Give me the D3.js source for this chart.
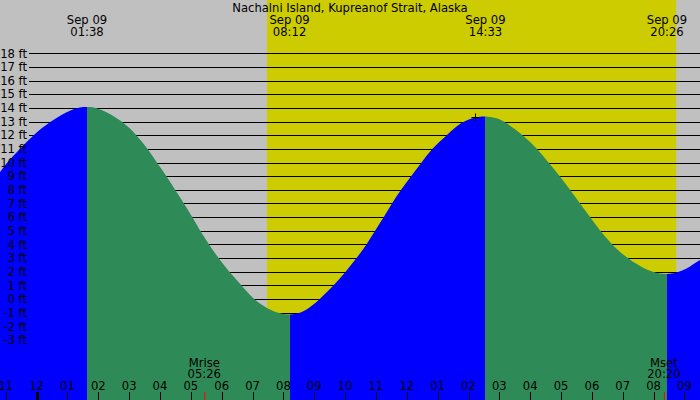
<!DOCTYPE html>
<html>
<head>
<meta charset="utf-8">
<script src="https://cdn.jsdelivr.net/npm/d3@7"></script>
<style>
  body { margin: 0; background: #ffffff; }
  text { font-family: "DejaVu Sans", sans-serif; font-size: 11.6px; fill: #000000; }
</style>
</head>
<body>
<script>
var CHART_WIDTH = 700;
var CHART_HEIGHT = 400;

var night_color = "#c0c0c0";
var day_color = "#cccc00";
var rising_color = "#0000ff";
var falling_color = "#2e8b57";

var chart_title = "Nachalni Island, Kupreanof Strait, Alaska";

// tide height readings (hours after midnight Sep 09, feet)
var tideHours = [-1.186, -0.959, -0.538, -0.117, 0.434, 1.180, 1.633,
                 2.055, 2.810, 3.245, 3.601, 3.893, 4.217, 4.486, 4.779, 5.047, 5.297, 5.589, 5.890, 6.237, 6.648, 7.000, 7.672, 8.200,
                 8.670, 9.190, 9.640, 10.020, 10.376, 10.700, 10.969, 11.261, 11.511, 11.812, 12.136, 12.483, 12.807, 13.293, 13.779, 14.210, 14.550,
                 14.880, 15.183, 15.776, 16.230, 16.587, 16.966, 17.290, 17.614, 17.939, 18.263, 18.642, 19.128, 19.828, 20.433,
                 20.857, 21.180, 21.504];
var tideFeet = [9.3, 10, 11, 12, 13, 14, 14.1,
                14, 13, 12, 11, 10, 9, 8, 7, 6, 5, 4, 3, 2, 1, 0, -1, -1.2,
                -1, 0, 1, 2, 3, 4, 5, 6, 7, 8, 9, 10, 11, 12, 13, 13.32, 13.4,
                13.3, 13, 12, 11, 10, 9, 8, 7, 6, 5, 4, 3, 2, 1.76,
                2.0, 2.37, 2.86];

// high / low tide times
var extremeDates = ["Sep 09", "Sep 09", "Sep 09", "Sep 09"];
var extremeTimes = ["01:38", "08:12", "14:33", "20:26"];

// sunrise / sunset
var sunTimes = ["07:28", "20:44"];

// moon rise / set
var moonLabels = ["Mrise", "Mset"];
var moonTimes = ["05:26", "20:20"];

// small cross marker
var markHours = [14.21];
var markFeet = [13.3];

// y axis levels
var feetTicks = d3.range(-3, 19);

// hour ticks
var hourTicks = d3.range(-1, 22);


function hoursOf(s) {
  var p = s.split(":");
  return +p[0] + (+p[1]) / 60;
}

function hourLabel(h) {
  var v = ((h % 12) + 12) % 12;
  if (v == 0) v = 12;
  return (v < 10 ? "0" : "") + v;
}


var x = d3.scaleLinear().domain([0, 12]).range([36.6, 406.8]);
var y = d3.scaleLinear().domain([0, 18]).range([299, 53.3]);

var svg = d3.select("body").append("svg")
              .attr("width", CHART_WIDTH)
              .attr("height", CHART_HEIGHT);

// Night background
svg.append("rect")
     .attr("width", CHART_WIDTH)
     .attr("height", CHART_HEIGHT)
     .style("fill", night_color);

// Daylight band
svg.append("rect")
     .attr("x", x(hoursOf(sunTimes[0])))
     .attr("y", 0)
     .attr("width", x(hoursOf(sunTimes[1])) - x(hoursOf(sunTimes[0])))
     .attr("height", CHART_HEIGHT)
     .style("fill", day_color);

// Grid lines (covered by the water)
svg.append("g").selectAll("line")
     .data(feetTicks).enter()
   .append("line")
     .attr("x1", 29)
     .attr("x2", CHART_WIDTH)
     .attr("y1", function (d) { return Math.round(y(d)) + 0.5; })
     .attr("y2", function (d) { return Math.round(y(d)) + 0.5; })
     .style("stroke", "#000000")
     .style("stroke-width", 1);

// Water area
var tidePoints = tideHours.map(function (h, i) { return [h, tideFeet[i]]; });

var area = d3.area()
             .x(function (d) { return x(d[0]); })
             .y0(CHART_HEIGHT)
             .y1(function (d) { return y(d[1]); })
             .curve(d3.curveBasis);

svg.append("clipPath").attr("id", "water_clip")
   .append("path")
     .attr("d", area(tidePoints));

// split water into rising / falling pieces at each extreme
var bounds = [tideHours[0]].concat(extremeTimes.map(hoursOf), [tideHours[tideHours.length - 1]]);

function levelAt(h) {
  var i = d3.bisector(function (d) { return d; }).left(tideHours, h);
  if (i >= tideHours.length) i = tideHours.length - 1;
  return tideFeet[i];
}

var pieces = [];
for (var i = 0; i < bounds.length - 1; i++) {
  pieces.push({ a: bounds[i], b: bounds[i + 1], rising: levelAt(bounds[i + 1]) > levelAt(bounds[i]) });
}

svg.append("g").attr("clip-path", "url(#water_clip)")
   .selectAll("rect")
     .data(pieces).enter()
   .append("rect")
     .attr("x", function (d) { return x(d.a); })
     .attr("width", function (d) { return x(d.b) - x(d.a); })
     .attr("y", 0)
     .attr("height", CHART_HEIGHT)
     .style("fill", function (d) { return d.rising ? rising_color : falling_color; })
     .attr("shape-rendering", "crispEdges");

// Y labels
svg.append("g").selectAll("text")
     .data(feetTicks).enter()
   .append("text")
     .attr("x", 27)
     .attr("y", function (d) { return y(d) + 4.2; })
     .attr("text-anchor", "end")
     .text(function (d) { return d + " ft"; });

// Title
svg.append("text")
     .attr("x", 350)
     .attr("y", 12)
     .attr("text-anchor", "middle")
     .text(chart_title);

// High / low tide labels
var extremeG = svg.append("g").selectAll("g")
     .data(extremeTimes).enter()
   .append("g")
     .attr("transform", function (d) { return "translate(" + x(hoursOf(d)) + ",0)"; });

extremeG.append("text")
     .attr("y", 24)
     .attr("text-anchor", "middle")
     .text(function (d, i) { return extremeDates[i]; });

extremeG.append("text")
     .attr("y", 36)
     .attr("text-anchor", "middle")
     .text(function (d) { return d; });

// Hour ticks and labels
svg.append("g").selectAll("line")
     .data(hourTicks).enter()
   .append("line")
     .attr("x1", function (d) { return Math.round(x(d)) + 0.5; })
     .attr("x2", function (d) { return Math.round(x(d)) + 0.5; })
     .attr("y1", 392)
     .attr("y2", CHART_HEIGHT)
     .style("stroke", "#000000")
     .style("stroke-width", function (d) { return d == 0 ? 3 : 1; });

svg.append("g").selectAll("text")
     .data(hourTicks).enter()
   .append("text")
     .attr("x", function (d) { return x(d); })
     .attr("y", 390)
     .attr("text-anchor", "middle")
     .text(hourLabel);

// Moon rise / set
var moonG = svg.append("g").selectAll("g")
     .data(moonTimes).enter()
   .append("g")
     .attr("transform", function (d) { return "translate(" + x(hoursOf(d)) + ",0)"; });

moonG.append("line")
     .attr("x1", 0.5).attr("x2", 0.5)
     .attr("y1", 392).attr("y2", CHART_HEIGHT)
     .style("stroke", "#ff0000")
     .style("stroke-width", 1);

moonG.append("text")
     .attr("y", 366.5)
     .attr("text-anchor", "middle")
     .text(function (d, i) { return moonLabels[i]; });

moonG.append("text")
     .attr("y", 378)
     .attr("text-anchor", "middle")
     .text(function (d) { return d; });

// Cross marker
var markG = svg.append("g").selectAll("g")
     .data(markHours).enter()
   .append("g")
     .attr("transform", function (d, i) { return "translate(" + (Math.round(x(d)) + 0.5) + "," + (Math.round(y(markFeet[i])) + 0.5) + ")"; });

markG.append("line").attr("x1", -4).attr("x2", 4).attr("y1", 0).attr("y2", 0).style("stroke", "#000000");
markG.append("line").attr("x1", 0).attr("x2", 0).attr("y1", -4).attr("y2", 4).style("stroke", "#000000");
</script>
</body>
</html>
